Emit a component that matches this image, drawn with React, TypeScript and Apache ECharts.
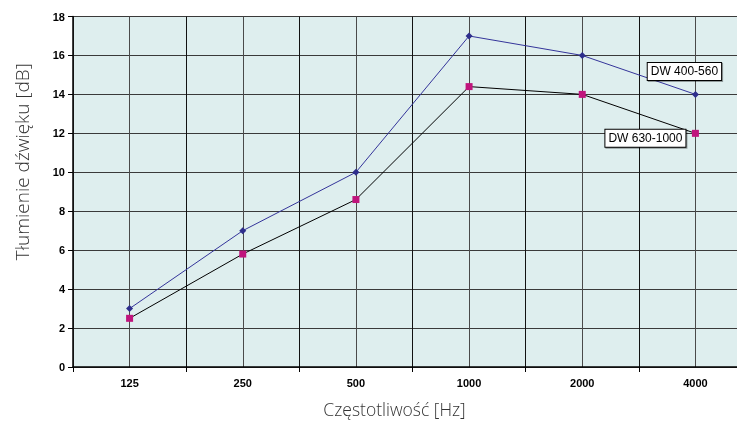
import React, { useEffect, useRef } from "react";
import * as echarts from "echarts";

const categories = ["125", "250", "500", "1000", "2000", "4000"];
const seriesA = [3, 7, 10, 17, 16, 14]; // DW 400-560
const seriesB = [2.5, 5.8, 8.6, 14.4, 14, 12]; // DW 630-1000
const minorCats = ["", "", "", "", "", "", "", "", "", "", "", ""];

export default function App() {
  const ref = useRef<HTMLDivElement>(null);
  useEffect(() => {
    document.body.style.margin = "0";
    document.body.style.overflow = "hidden";
    document.documentElement.style.overflow = "hidden";
    const chart = echarts.init(ref.current!, null, { renderer: "svg" });
    const labelBox = {
      backgroundColor: "#fff",
      borderColor: "#000",
      borderWidth: 1,
      padding: [3, 3, 2, 3],
      color: "#000",
      fontSize: 12,
      fontFamily: "Liberation Sans, Arial, sans-serif",
      shadowColor: "rgba(0,0,0,0.35)",
      shadowOffsetX: 1,
      shadowOffsetY: 1,
      shadowBlur: 1,
    };
    chart.setOption({
      animation: false,
      grid: {
        show: true,
        left: 73,
        right: 0,
        top: 16.5,
        bottom: 50,
        backgroundColor: "#deeeee",
        borderWidth: 0,
      },
      xAxis: [
        {
          type: "category",
          data: categories,
          boundaryGap: true,
          axisLine: { show: true, lineStyle: { color: "#000", width: 1.5 } },
          axisTick: { show: true, length: 5, lineStyle: { color: "#000" } },
          axisLabel: {
            color: "#000",
            fontWeight: "bold",
            fontSize: 11,
            fontFamily: "Liberation Sans, Arial, sans-serif",
            margin: 10,
          },
          splitLine: { show: true, lineStyle: { color: "#111", width: 1 } },
          name: "Częstotliwość [Hz]",
          nameLocation: "middle",
          nameGap: 33,
          nameTextStyle: {
            fontFamily: "Open Sans, sans-serif",
            fontWeight: 300,
            fontSize: 17.5,
            color: "#333",
            padding: [0, 36, 0, 0],
          },
          z: 3,
        },
        {
          type: "category",
          data: minorCats,
          boundaryGap: true,
          position: "bottom",
          axisLine: { show: false },
          axisTick: { show: false },
          axisLabel: { show: false },
          splitLine: { show: true, lineStyle: { color: "#4a4a4a", width: 1 } },
        },
      ],
      yAxis: {
        type: "value",
        min: 0,
        max: 18,
        interval: 2,
        axisLine: { show: true, lineStyle: { color: "#000", width: 1.5 } },
        axisTick: { show: true, length: 5, lineStyle: { color: "#000" } },
        axisLabel: {
          color: "#000",
          fontWeight: "bold",
          fontSize: 11,
          fontFamily: "Liberation Sans, Arial, sans-serif",
          margin: 8,
        },
        splitLine: { show: true, lineStyle: { color: "#3a3a3a", width: 1 } },
        name: "Tłumienie dźwięku [dB]",
        nameLocation: "middle",
        nameGap: 42,
        nameTextStyle: {
          fontFamily: "Open Sans, sans-serif",
          fontWeight: 300,
          fontSize: 19,
          color: "#333",
          padding: [0, 0, 0, 60],
        },
      },
      series: [
        {
          name: "DW 400-560",
          type: "line",
          xAxisIndex: 0,
          data: seriesA.map((v, i) =>
            i === seriesA.length - 1
              ? {
                  value: v,
                  label: {
                    show: true,
                    position: "inside",
                    offset: [-11, -23],
                    formatter: "DW 400-560",
                    ...labelBox,
                  },
                }
              : v
          ),
          symbol: "diamond",
          symbolSize: 7,
          itemStyle: { color: "#2e2e8c" },
          lineStyle: { color: "#34349a", width: 1 },
          z: 5,
        },
        {
          name: "DW 630-1000",
          type: "line",
          xAxisIndex: 0,
          data: seriesB.map((v, i) =>
            i === seriesB.length - 1
              ? {
                  value: v,
                  label: {
                    show: true,
                    position: "inside",
                    offset: [-50, 5],
                    formatter: "DW 630-1000",
                    ...labelBox,
                  },
                }
              : v
          ),
          symbol: "rect",
          symbolSize: 7,
          itemStyle: { color: "#c0147c" },
          lineStyle: { color: "#000", width: 1 },
          z: 4,
        },
      ],
    });
    return () => chart.dispose();
  }, []);
  return (
    <div
      ref={ref}
      style={{ position: "fixed", left: 0, top: 0, width: 752, height: 423 }}
    />
  );
}
